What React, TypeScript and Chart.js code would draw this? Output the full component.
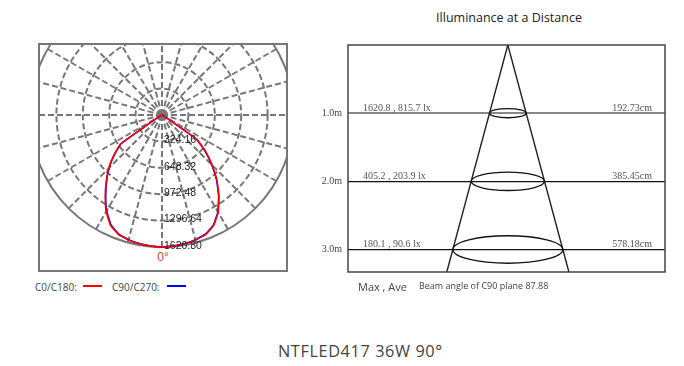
import React, { useEffect, useRef } from "react";
import { Chart, registerables } from "chart.js";

Chart.register(...registerables);

// ---------- Polar (luminous intensity) data ----------
const ANGLES = [0, 5, 10, 15, 20, 25, 30, 35, 40, 45, 50, 55, 60, 65, 70, 75, 80, 85, 90];
const C180_CD = [1620, 1616, 1606, 1590, 1562, 1495, 1370, 1215, 1065, 925, 775, 620, 60, 15, 10, 8, 6, 5, 4];
const C0_CD = [1620, 1616, 1606, 1590, 1562, 1500, 1380, 1220, 1050, 870, 700, 525, 50, 15, 10, 8, 6, 5, 4];
const C270_CD = [1620, 1614, 1603, 1585, 1555, 1485, 1360, 1205, 1057, 918, 766, 610, 56, 14, 9, 7, 5, 4, 4];
const C90_CD = [1620, 1614, 1603, 1586, 1556, 1492, 1372, 1212, 1043, 864, 692, 516, 46, 14, 9, 7, 5, 4, 4];
const RING_VALUES = [0, 324.16, 648.32, 972.48, 1296.64, 1620.8];
const RING_LABELS = ["", "324.16", "648.32", "972.48", "1296.64", "1620.80"];

// ---------- Illuminance at a distance data ----------
const DISTANCES = [1, 2, 3];
const DIST_LABELS = ["1.0m", "2.0m", "3.0m"];
const MAX_LUX = ["1620.8", "405.2", "180.1"];
const AVE_LUX = ["815.7", "203.9", "90.6"];
const DIAMETERS = ["192.73", "385.45", "578.18"];
const BEAM_ANGLE = 87.88;
const DEPTH_MAX = 3.33;

const STEP = 5;
const LOOP_ANGLES: number[] = [];
for (let a = 0; a < 360; a += STEP) LOOP_ANGLES.push(a);

function buildLoop(left: number[], right: number[]): number[] {
  return LOOP_ANGLES.map((a) => {
    if (a <= 90) return left[ANGLES.indexOf(a)];
    if (a >= 270) return right[ANGLES.indexOf(360 - a)];
    return 0;
  });
}

const polarDecor = {
  id: "polarDecor",
  beforeDatasetsDraw(chart: any) {
    const s = chart.scales.r;
    const ctx = chart.ctx;
    ctx.save();
    ctx.fillStyle = "#777";
    ctx.beginPath();
    ctx.arc(s.xCenter, s.yCenter, 4.5, 0, Math.PI * 2);
    ctx.fill();
    ctx.restore();
  },
  afterDraw(chart: any) {
    const s = chart.scales.r;
    const ctx = chart.ctx;
    ctx.save();
    ctx.font = "10.5px 'Liberation Sans', Arial, sans-serif";
    ctx.fillStyle = "#222";
    ctx.textAlign = "left";
    ctx.textBaseline = "middle";
    RING_VALUES.forEach((v, i) => {
      if (!RING_LABELS[i]) return;
      const d = s.getDistanceFromCenterForValue(v);
      ctx.fillText(RING_LABELS[i], s.xCenter + 2, s.yCenter + d - 1);
    });
    ctx.restore();
  },
};

const coneDecor = {
  id: "coneDecor",
  afterDatasetsDraw(chart: any) {
    const { ctx, chartArea } = chart;
    const x = chart.scales.x;
    const y = chart.scales.y;
    ctx.save();
    ctx.strokeStyle = "#111";
    ctx.lineWidth = 1.3;
    DISTANCES.forEach((d, i) => {
      const cx = x.getPixelForValue(0);
      const cy = y.getPixelForValue(d);
      const rx = x.getPixelForValue(parseFloat(DIAMETERS[i]) / 2) - cx;
      ctx.beginPath();
      ctx.ellipse(cx, cy, rx, rx * 0.25, 0, 0, Math.PI * 2);
      ctx.stroke();
    });
    ctx.font = "10px 'Liberation Serif', 'Times New Roman', serif";
    ctx.fillStyle = "#555";
    ctx.textBaseline = "alphabetic";
    DISTANCES.forEach((d, i) => {
      const py = y.getPixelForValue(d) - 2.5;
      ctx.textAlign = "left";
      ctx.fillText(`${MAX_LUX[i]} , ${AVE_LUX[i]} lx`, chartArea.left + 15, py);
      ctx.textAlign = "right";
      ctx.fillText(`${DIAMETERS[i]}cm`, chartArea.right - 13, py);
    });
    ctx.strokeStyle = "#444";
    ctx.lineWidth = 1.5;
    ctx.strokeRect(chartArea.left, chartArea.top, chartArea.right - chartArea.left, chartArea.bottom - chartArea.top);
    ctx.restore();
  },
};

const sans = "'Open Sans', 'Noto Sans', sans-serif";

export default function App() {
  const polarRef = useRef<HTMLCanvasElement | null>(null);
  const coneRef = useRef<HTMLCanvasElement | null>(null);

  useEffect(() => {
    const polar = new Chart(polarRef.current as HTMLCanvasElement, {
      type: "radar",
      data: {
        labels: LOOP_ANGLES.map((a) => `${a}°`),
        datasets: [
          {
            label: "C0/C180",
            data: buildLoop(C180_CD, C0_CD),
            borderColor: "#ff0000",
            borderWidth: 1.6,
            pointRadius: 0,
            fill: false,
            tension: 0.1,
          },
          {
            label: "C90/C270",
            data: buildLoop(C270_CD, C90_CD),
            borderColor: "#0000ff",
            borderWidth: 1.6,
            pointRadius: 0,
            fill: false,
            tension: 0.1,
          },
        ],
      },
      options: {
        animation: false,
        responsive: false,
        maintainAspectRatio: false,
        layout: { padding: 2 },
        plugins: { legend: { display: false }, tooltip: { enabled: false } },
        scales: {
          r: {
            min: 0,
            max: 1620.8,
            startAngle: 180,
            afterBuildTicks: (s: any) => {
              s.ticks = RING_VALUES.map((v) => ({ value: v }));
            },
            ticks: { display: false },
            pointLabels: { display: false },
            grid: { circular: true, color: "#777", lineWidth: 2 },
            border: { dash: (c: any) => (c.index === RING_VALUES.length - 1 ? [] : [6, 3]) },
            angleLines: {
              color: "#777",
              lineWidth: (c: any) => (c.index % 3 === 0 ? 2 : 0),
              borderDash: [6, 3],
            },
          } as any,
        },
      } as any,
      plugins: [polarDecor],
    });

    const halfPerM = Math.tan(((BEAM_ANGLE / 2) * Math.PI) / 180) * 100;
    const cone = new Chart(coneRef.current as HTMLCanvasElement, {
      type: "scatter",
      data: {
        datasets: [
          {
            data: [
              { x: 0, y: 0 },
              { x: -halfPerM * DEPTH_MAX, y: DEPTH_MAX },
            ],
            showLine: true,
            borderColor: "#222",
            borderWidth: 1.4,
            pointRadius: 0,
          },
          {
            data: [
              { x: 0, y: 0 },
              { x: halfPerM * DEPTH_MAX, y: DEPTH_MAX },
            ],
            showLine: true,
            borderColor: "#222",
            borderWidth: 1.4,
            pointRadius: 0,
          },
        ],
      },
      options: {
        animation: false,
        responsive: false,
        maintainAspectRatio: false,
        layout: { padding: { top: 5, right: 15, bottom: 8, left: 0 } },
        plugins: { legend: { display: false }, tooltip: { enabled: false } },
        scales: {
          x: { type: "linear", min: -840, max: 826, display: false },
          y: {
            type: "linear",
            reverse: true,
            min: 0,
            max: DEPTH_MAX,
            afterBuildTicks: (s: any) => {
              s.ticks = DISTANCES.map((v) => ({ value: v }));
            },
            afterFit: (s: any) => {
              s.width = 48;
              s.paddingTop = 0;
              s.paddingBottom = 0;
            },
            ticks: {
              callback: (_v: any, i: number) => DIST_LABELS[i],
              font: { family: "'Liberation Serif', 'Times New Roman', serif", size: 10 },
              color: "#444",
              padding: 6,
            },
            grid: {
              drawTicks: false,
              color: (c: any) => (c.index === 0 ? "#888" : "#111"),
              lineWidth: (c: any) => (c.index === 0 ? 2 : 1.2),
            },
            border: { display: false },
          },
        },
      } as any,
      plugins: [coneDecor],
    });

    return () => {
      polar.destroy();
      cone.destroy();
    };
  }, []);

  const abs = (l: number, t: number, extra: any = {}) => ({
    position: "absolute" as const,
    left: l,
    top: t,
    whiteSpace: "nowrap" as const,
    ...extra,
  });

  return (
    <div style={{ position: "absolute", left: 0, top: 0, width: 684, height: 366, background: "#fff", fontFamily: sans }}>
      <div
        style={{
          position: "absolute",
          left: 38,
          top: 43,
          width: 250,
          height: 229,
          boxSizing: "border-box",
          border: "2px solid #777",
          overflow: "hidden",
        }}
      >
        <canvas
          ref={polarRef}
          width={268}
          height={268}
          style={{ position: "absolute", left: -12, top: -64, width: 268, height: 268 }}
        />
        <div style={{ position: "absolute", left: 0, width: 246, top: 205, textAlign: "center", color: "#cc4444", fontSize: 12, lineHeight: "14px", fontFamily: "'Liberation Sans', Arial, sans-serif" }}>
          0°
        </div>
      </div>

      <div style={abs(35, 279, { fontSize: 10, lineHeight: "16px", color: "#444" })}>C0/C180:</div>
      <div style={abs(83, 285, { width: 19, height: 2, background: "#ff0000" })} />
      <div style={abs(112, 279, { fontSize: 10, lineHeight: "16px", color: "#444" })}>C90/C270:</div>
      <div style={abs(167, 285, { width: 19, height: 2, background: "#0000ff" })} />

      <div style={abs(509, 10, { fontSize: 12.5, lineHeight: "16px", color: "#222", transform: "translateX(-50%)" })}>
        Illuminance at a Distance
      </div>
      <canvas
        ref={coneRef}
        width={380}
        height={240}
        style={{ position: "absolute", left: 300, top: 40, width: 380, height: 240 }}
      />
      <div style={abs(358, 279, { fontSize: 11, lineHeight: "16px", color: "#444" })}>Max , Ave</div>
      <div style={abs(419, 278, { fontSize: 9, lineHeight: "16px", color: "#444" })}>Beam angle of C90 plane 87.88</div>

      <div style={abs(278, 341, { fontSize: 16.3, lineHeight: "20px", color: "#444", letterSpacing: 0.6 })}>
        NTFLED417 36W 90°
      </div>
    </div>
  );
}
